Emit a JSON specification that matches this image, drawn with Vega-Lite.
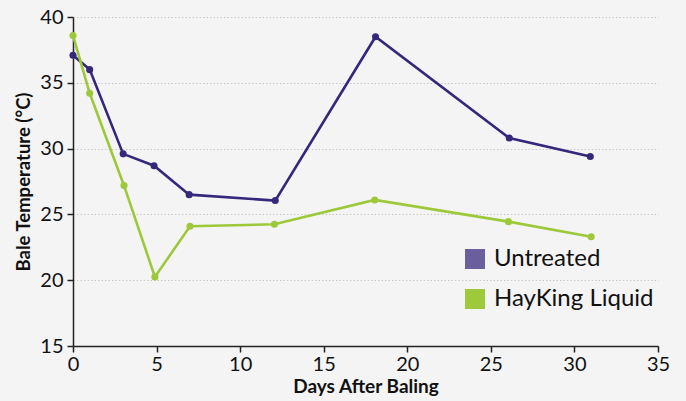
{
  "$schema": "https://vega.github.io/schema/vega-lite/v6.json",
  "width": 585,
  "height": 329,
  "autosize": "none",
  "padding": {"left": 73, "top": 17, "right": 28, "bottom": 55},
  "background": "#f4f4f4",
  "config": {
    "view": {"stroke": null},
    "font": "Lato"
  },
  "data": {
    "values": [
      {"day": 0, "temp": 37.1, "series": "Untreated"},
      {"day": 1, "temp": 36.0, "series": "Untreated"},
      {"day": 3, "temp": 29.6, "series": "Untreated"},
      {"day": 4.85, "temp": 28.7, "series": "Untreated"},
      {"day": 6.95, "temp": 26.5, "series": "Untreated"},
      {"day": 12.1, "temp": 26.05, "series": "Untreated"},
      {"day": 18.1, "temp": 38.5, "series": "Untreated"},
      {"day": 26.1, "temp": 30.8, "series": "Untreated"},
      {"day": 30.95, "temp": 29.4, "series": "Untreated"},
      {"day": 0, "temp": 38.6, "series": "HayKing Liquid"},
      {"day": 1, "temp": 34.2, "series": "HayKing Liquid"},
      {"day": 3.05, "temp": 27.2, "series": "HayKing Liquid"},
      {"day": 4.9, "temp": 20.25, "series": "HayKing Liquid"},
      {"day": 7, "temp": 24.1, "series": "HayKing Liquid"},
      {"day": 12.05, "temp": 24.25, "series": "HayKing Liquid"},
      {"day": 18.05, "temp": 26.1, "series": "HayKing Liquid"},
      {"day": 26.05, "temp": 24.45, "series": "HayKing Liquid"},
      {"day": 31, "temp": 23.3, "series": "HayKing Liquid"}
    ]
  },
  "encoding": {
    "x": {
      "field": "day", "type": "quantitative",
      "scale": {"domain": [0, 35], "nice": false},
      "axis": {
        "title": "Days After Baling",
        "values": [0, 5, 10, 15, 20, 25, 30, 35],
        "grid": false,
        "labelFlush": false,
        "domainColor": "#222222", "domainWidth": 1.5,
        "tickColor": "#222222", "tickWidth": 1.5, "tickSize": 6,
        "labelFontSize": 20, "labelColor": "#111111", "labelPadding": 2,
        "titleFontSize": 19, "titleFontWeight": "bold", "titleColor": "#111111", "titlePadding": 3
      }
    },
    "y": {
      "field": "temp", "type": "quantitative",
      "scale": {"domain": [15, 40], "nice": false, "zero": false},
      "axis": {
        "title": "Bale Temperature (°C)",
        "values": [15, 20, 25, 30, 35, 40],
        "grid": true, "gridColor": "#c8c8c8", "gridDash": [1.5, 2], "gridWidth": 1,
        "labelFlush": false,
        "domainColor": "#222222", "domainWidth": 1.5,
        "tickColor": "#222222", "tickWidth": 1.5, "tickSize": 6,
        "labelFontSize": 20, "labelColor": "#111111", "labelPadding": 4,
        "titleFontSize": 18.5, "titleFontWeight": "bold", "titleColor": "#111111", "titlePadding": 6
      }
    }
  },
  "layer": [
    {
      "mark": {"type": "line", "strokeWidth": 2.6, "point": {"size": 50, "filled": true, "opacity": 1}},
      "encoding": {
        "color": {
          "field": "series", "type": "nominal",
          "scale": {"domain": ["Untreated", "HayKing Liquid"], "range": ["#33287a", "#9dc83a"]},
          "legend": null
        }
      }
    },
    {
      "mark": {"type": "square", "opacity": 0, "size": 1},
      "encoding": {
        "color": {
          "field": "series", "type": "nominal",
          "scale": {"domain": ["Untreated", "HayKing Liquid"], "range": ["#6a5e9c", "#9ec93a"]},
          "legend": {
            "title": null,
            "orient": "none",
            "legendX": 390,
            "legendY": 230,
            "symbolType": "square",
            "symbolSize": 400,
            "symbolOpacity": 1,
            "symbolStrokeWidth": 0,
            "labelFontSize": 24,
            "labelColor": "#111111",
            "labelOffset": 7,
            "rowPadding": 16
          }
        }
      }
    }
  ],
  "resolve": {"scale": {"color": "independent"}, "legend": {"color": "independent"}}
}
